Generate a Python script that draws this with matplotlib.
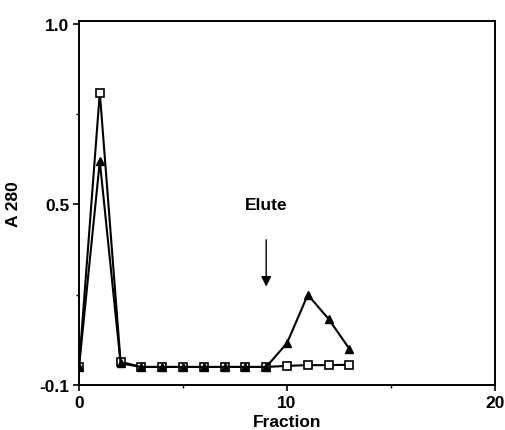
import matplotlib
matplotlib.use("Agg")
import matplotlib.pyplot as plt
from matplotlib.ticker import FixedLocator

# --------------------------
# Data
# --------------------------
fraction = [0, 1, 2, 3, 4, 5, 6, 7, 8, 9, 10, 11, 12, 13]
a280_squares = [0.05, 0.81, 0.064, 0.05, 0.05, 0.05, 0.05, 0.05, 0.05, 0.05,
                0.053, 0.055, 0.055, 0.056]
a280_triangles = [0.05, 0.62, 0.06, 0.05, 0.05, 0.05, 0.05, 0.05, 0.05, 0.05,
                  0.116, 0.25, 0.183, 0.10]

y_ticks = [0.0, 0.5, 1.0]
y_tick_labels = ["-0.1", "0.5", "1.0"]
x_ticks = [0, 10, 20]

elute_x = 9
elute_top = 0.41
elute_tip = 0.265

plt.rcParams["font.family"] = ["Liberation Sans", "DejaVu Sans"]
plt.rcParams["font.weight"] = "bold"

fig = plt.figure(figsize=(5.05, 4.31), dpi=100)
ax = fig.add_axes([79 / 505, 1 - 386 / 431, (495 - 79) / 505, (386 - 22) / 431])

ax.plot(fraction, a280_squares, color="black", lw=1.5, marker="s",
        markersize=6, markerfacecolor="white", markeredgecolor="black",
        markeredgewidth=1.2, zorder=2)
ax.plot(fraction, a280_triangles, color="black", lw=1.5, marker="^",
        markersize=6, markerfacecolor="black", markeredgecolor="black", zorder=3)

# Elute arrow
ax.annotate("", xy=(elute_x, elute_tip), xytext=(elute_x, elute_top),
            arrowprops=dict(arrowstyle="-|>", color="black", lw=1.0,
                            mutation_scale=15))
ax.text(elute_x, 0.50, "Elute", ha="center", va="center",
        fontsize=12.5, fontweight="bold")

ax.set_xlim(0, 20)
ax.set_ylim(0, 1.0083)

ax.set_xticks(x_ticks)
ax.set_xticklabels([str(t) for t in x_ticks], fontsize=12.5, fontweight="bold")
ax.xaxis.set_minor_locator(FixedLocator([5, 15]))
ax.set_yticks(y_ticks)
ax.set_yticklabels(y_tick_labels, fontsize=12.5, fontweight="bold")
ax.yaxis.set_minor_locator(FixedLocator([0.25, 0.75]))

ax.tick_params(which="major", direction="out", length=4, width=1.2, pad=3)
ax.tick_params(which="minor", direction="out", length=2, width=1.0)

for s in ax.spines.values():
    s.set_linewidth(1.4)

ax.set_xlabel("Fraction", fontsize=12.5, fontweight="bold", labelpad=3)
ax.set_ylabel("A 280", fontsize=12.5, fontweight="bold", labelpad=13)

fig.savefig("out.png", dpi=100)
